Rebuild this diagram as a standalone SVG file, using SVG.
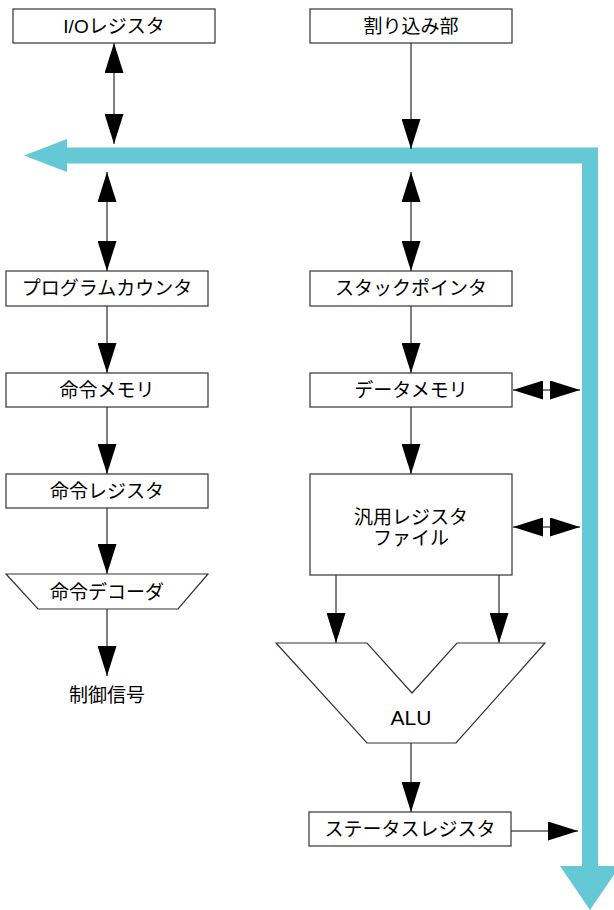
<svg xmlns="http://www.w3.org/2000/svg" width="614" height="910" viewBox="0 0 614 910">
<style>
.box{fill:#fff;stroke:#333;stroke-width:1.2}
.t{font-family:"Liberation Sans","Noto Sans CJK JP",sans-serif;font-size:19px;fill:#000;text-anchor:middle;dominant-baseline:central}
.alu{font-size:21px}
.c{stroke:#000;stroke-width:1;fill:none}
.bus{stroke:#65C9D5;stroke-width:16;fill:none;stroke-linejoin:miter}
.bh{fill:#65C9D5}
</style>
<defs>
<marker id="ah" viewBox="0 0 30 19" refX="30" refY="9.5" markerWidth="30" markerHeight="19" markerUnits="userSpaceOnUse" orient="auto-start-reverse">
<path d="M0,0 L30,9.5 L0,19 z" fill="#000"/>
</marker>
</defs>
<g id="bus">
<path class="bus" d="M66,155.5 H590 V867"/>
<polygon class="bh" points="24,155.5 67,139 67,172"/>
<polygon class="bh" points="560,866 620,866 590,910"/>
</g>
<g id="connectors">
<line class="c" x1="114" y1="43" x2="114" y2="144" marker-start="url(#ah)" marker-end="url(#ah)"/>
<line class="c" x1="411" y1="43" x2="411" y2="149" marker-end="url(#ah)"/>
<line class="c" x1="107" y1="172" x2="107" y2="271" marker-start="url(#ah)" marker-end="url(#ah)"/>
<line class="c" x1="411" y1="172" x2="411" y2="271" marker-start="url(#ah)" marker-end="url(#ah)"/>
<line class="c" x1="107" y1="306" x2="107" y2="373" marker-end="url(#ah)"/>
<line class="c" x1="411" y1="306" x2="411" y2="373" marker-end="url(#ah)"/>
<line class="c" x1="107" y1="407" x2="107" y2="474" marker-end="url(#ah)"/>
<line class="c" x1="411" y1="407" x2="411" y2="474" marker-end="url(#ah)"/>
<line class="c" x1="107" y1="508" x2="107" y2="574" marker-end="url(#ah)"/>
<line class="c" x1="107" y1="609" x2="107" y2="676" marker-end="url(#ah)"/>
<line class="c" x1="336" y1="575" x2="336" y2="643" marker-end="url(#ah)"/>
<line class="c" x1="499" y1="575" x2="499" y2="643" marker-end="url(#ah)"/>
<line class="c" x1="411" y1="743" x2="411" y2="812" marker-end="url(#ah)"/>
<line class="c" x1="511" y1="831" x2="578" y2="831" marker-end="url(#ah)"/>
<line class="c" x1="513" y1="390" x2="580" y2="390" marker-start="url(#ah)" marker-end="url(#ah)"/>
<line class="c" x1="513" y1="527" x2="580" y2="527" marker-start="url(#ah)" marker-end="url(#ah)"/>
</g>
<g id="io-register"><rect class="box" x="13" y="9" width="202" height="34"/><text class="t" x="114" y="26">I/Oレジスタ</text></g>
<g id="interrupt"><rect class="box" x="310" y="9" width="202" height="34"/><text class="t" x="411" y="26">割り込み部</text></g>
<g id="program-counter"><rect class="box" x="6" y="271" width="202" height="35"/><text class="t" x="107" y="288.5">プログラムカウンタ</text></g>
<g id="stack-pointer"><rect class="box" x="310" y="271" width="202" height="35"/><text class="t" x="411" y="288.5">スタックポインタ</text></g>
<g id="instruction-memory"><rect class="box" x="6" y="373" width="202" height="34"/><text class="t" x="107" y="390">命令メモリ</text></g>
<g id="data-memory"><rect class="box" x="310" y="373" width="202" height="34"/><text class="t" x="411" y="390">データメモリ</text></g>
<g id="instruction-register"><rect class="box" x="6" y="474" width="202" height="34"/><text class="t" x="107" y="491">命令レジスタ</text></g>
<g id="register-file"><rect class="box" x="310" y="474" width="202" height="101"/><text class="t" x="411" y="517">汎用レジスタ</text><text class="t" x="411" y="538">ファイル</text></g>
<g id="instruction-decoder"><polygon class="box" points="6,574 208,574 178,609 38,609"/><text class="t" x="107" y="592">命令デコーダ</text></g>
<g id="control-signal"><text class="t" x="107" y="695">制御信号</text></g>
<g id="alu"><polygon class="box" points="276,643 367,643 412,693 457,643 545,643 456,743 367,743"/><text class="t alu" x="411" y="717">ALU</text></g>
<g id="status-register"><rect class="box" x="309" y="812" width="202" height="34"/><text class="t" x="410" y="829">ステータスレジスタ</text></g>
</svg>
